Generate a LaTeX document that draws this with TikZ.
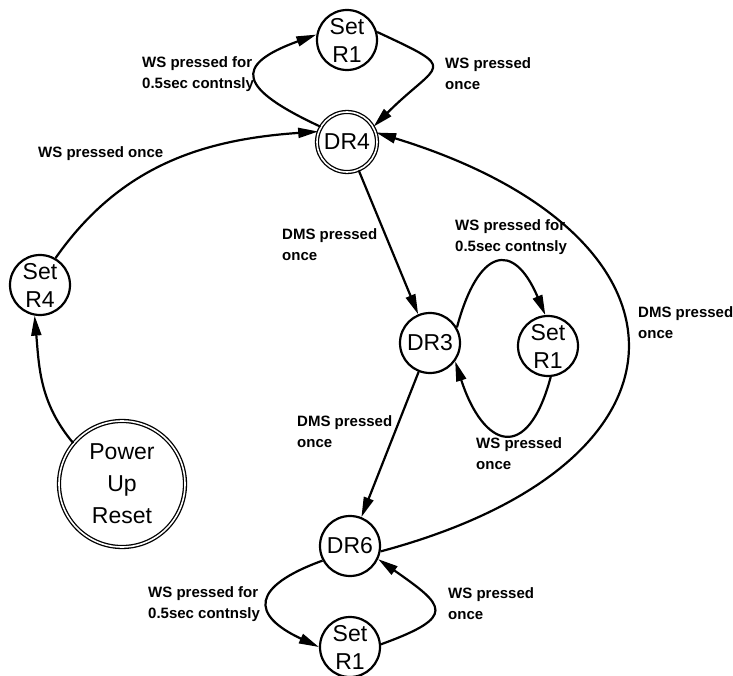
\documentclass[tikz,border=0pt]{standalone}
\usepackage{fontspec}
\setmainfont{Liberation Sans}
\usetikzlibrary{arrows.meta}

\tikzstyle{state} = [circle,draw,line width=2.2pt,inner sep=0pt,minimum size=60pt,align=center,font=\fontsize{23}{28}\selectfont]
\tikzstyle{home} = [state,double,line width=1.3pt,double distance=1.6pt]
\tikzstyle{trans} = [line width=2.2pt,-{Triangle[length=20pt,width=10pt]}]
\tikzstyle{lbl} = [inner sep=0pt,align=left,anchor=west,font=\fontsize{15}{21}\selectfont\bfseries]

\begin{document}
\begin{tikzpicture}[x=1pt,y=1pt]
	\useasboundingbox (0,0) rectangle (733,-676);

	\node[state] (setra) at (347,-40) {Set\\R1};
	\node[home] (drf) at (347,-142) {DR4};
	\node[state] (setrd) at (40,-285) {Set\\R4};
	\node[home,minimum size=126pt,font=\fontsize{23}{32}\selectfont] (pur) at (122,-484) {Power\\Up\\Reset};
	\node[state] (drt) at (430,-343) {DR3};
	\node[state] (setrb) at (548,-346) {Set\\R1};
	\node[state] (drs) at (350,-546) {DR6};
	\node[state] (setrc) at (350,-647) {Set\\R1};

	\node[lbl] (la) at (142,-74) {WS pressed for\\0.5sec contnsly};
	\node[lbl] (lb) at (445,-74) {WS pressed\\once};
	\node[lbl] (lc) at (38,-154) {WS pressed once};
	\node[lbl] (ld) at (282,-245) {DMS pressed\\once};
	\node[lbl] (le) at (455,-237) {WS pressed for\\0.5sec contnsly};
	\node[lbl] (lf) at (638,-323) {DMS pressed\\once};
	\node[lbl] (lg) at (297,-432) {DMS pressed\\once};
	\node[lbl] (lh) at (476,-454) {WS pressed\\once};
	\node[lbl] (li) at (148,-604) {WS pressed for\\0.5sec contnsly};
	\node[lbl] (lj) at (448,-604) {WS pressed\\once};

	\draw[trans] (setra.15) to[out=-25,in=45,looseness=2.5] (drf.30);
	\draw[trans] (drf.150) to[out=155,in=200,looseness=2.5] (setra.170);
	\draw[trans] (setrd.60) to[out=55,in=184] (drf.160);
	\draw[trans] (pur.140) to[out=130,in=-85] (setrd.-100);
	\draw[trans] (drf) -- (drt);
	\draw[trans] (drt.30) to[out=75,in=113,looseness=2.35] (setrb.95);
	\draw[trans] (setrb.-85) to[out=-105,in=-72,looseness=2.4] (drt.-36);
	\draw[trans] (drt) -- (drs);
	\draw[trans] (drs.-10) to[out=15,in=-17,looseness=2.1] (drf.18);
	\draw[trans] (drs.-152) to[out=200,in=155,looseness=2.25] (setrc.180);
	\draw[trans] (setrc.5) to[out=20,in=-35,looseness=2.45] (drs.-25);
\end{tikzpicture}
\end{document}
